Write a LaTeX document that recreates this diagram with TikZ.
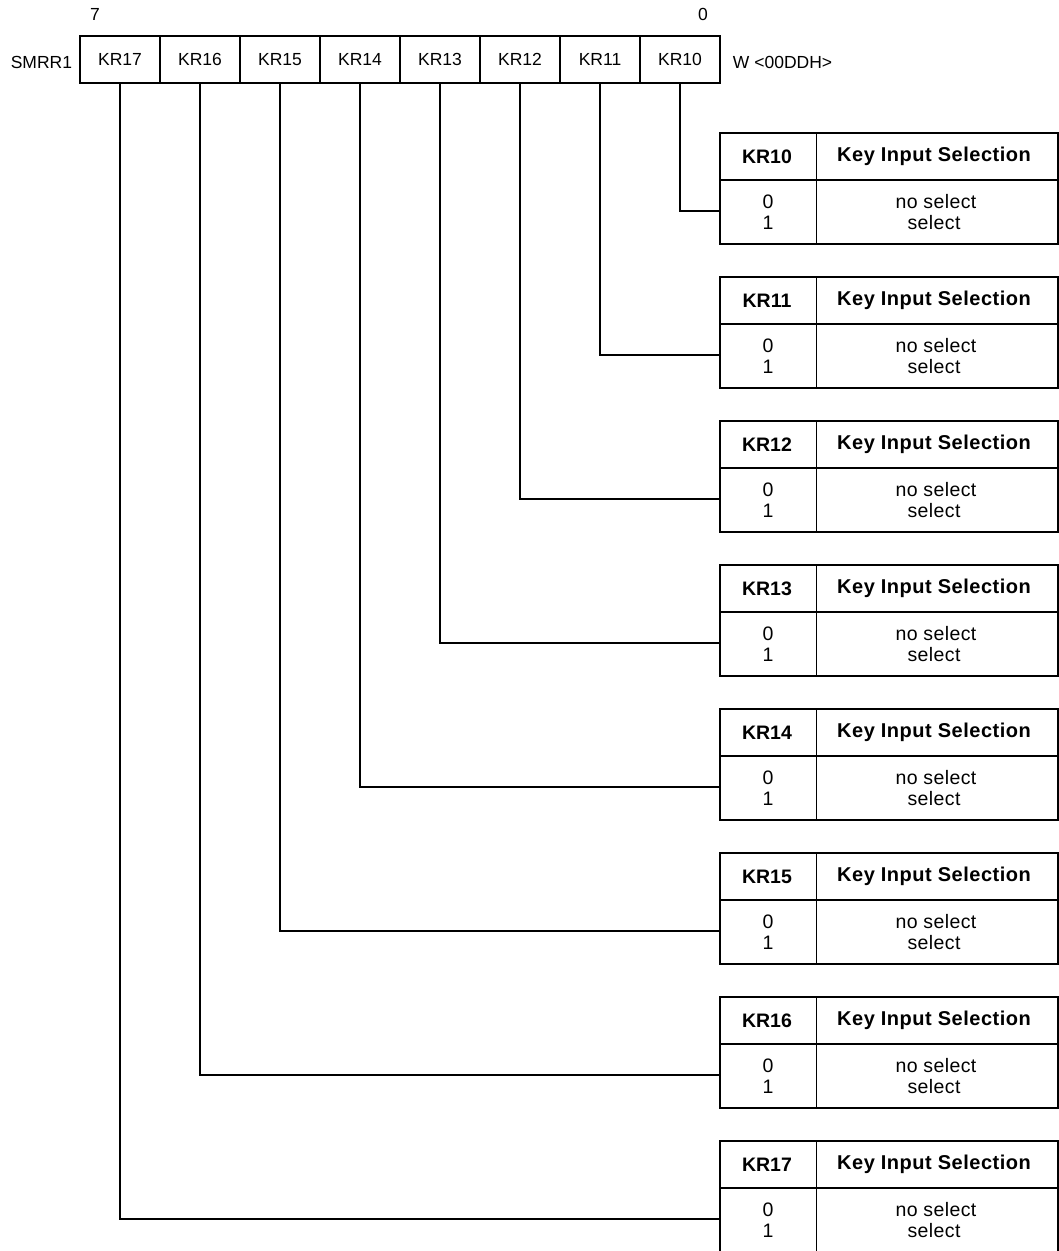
\documentclass[tikz,border=0pt]{standalone}
\usepackage{fontspec}
\setmainfont{Liberation Sans}
\begin{document}
\begin{tikzpicture}[x=1pt,y=-1pt,
  line width=1.9pt,
  regtxt/.style={font=\fontsize{17.5}{20}\selectfont, inner sep=0pt},
  cell/.style={draw, minimum width=80pt, minimum height=47pt, inner sep=0pt, font=\fontsize{17.5}{20}\selectfont},
  hdr/.style={font=\bfseries\fontsize{19.5}{22}\selectfont, inner sep=0pt},
  hdrw/.style={font=\bfseries\fontsize{20}{22}\selectfont\addfontfeature{LetterSpace=2.5}, inner sep=0pt},
  body/.style={font=\fontsize{19.5}{22}\selectfont\addfontfeature{LetterSpace=2}, inner sep=0pt, align=center},
  conn/.style={line width=1.9pt}]
\useasboundingbox (0,0) rectangle (1059,1251);
% register
\node[regtxt] (b7) at (95,14) {7};
\node[regtxt] (b0) at (703,14) {0};
\node[regtxt, anchor=east] (name) at (73,62) {SMRR1};
\foreach \n [count=\i from 0] in {7,6,5,4,3,2,1,0} {
  \node[cell] (r\n) at (120+80*\i,59.5) {KR1\n};
}
\node[regtxt, anchor=west] (acc) at (732,62) {W <00DDH>};
% tables
\foreach \n [count=\i from 0] in {0,1,2,3,4,5,6,7} {
  \pgfmathsetmacro{\t}{133+144*\i}
  \draw (720,\t) rectangle (1058,\t+111);
  \draw (720,\t+47) -- (1058,\t+47);
  \draw (816.5,\t) -- (816.5,\t+111);
  \node[hdr] (h\n) at (767,\t+23.5) {KR1\n};
  \node[hdrw] (k\n) at (934,\t+23.5) {Key Input Selection};
  \node[body] (v0\n) at (768,\t+68.5) {0};
  \node[body] (v1\n) at (768,\t+89.5) {1};
  \node[body] (d0\n) at (936,\t+68.5) {no select};
  \node[body] (d1\n) at (934,\t+89.5) {select};
  \coordinate (t\n) at (720,\t+78);
  \draw[conn] (r\n.south) |- (t\n);
}
\end{tikzpicture}
\end{document}
